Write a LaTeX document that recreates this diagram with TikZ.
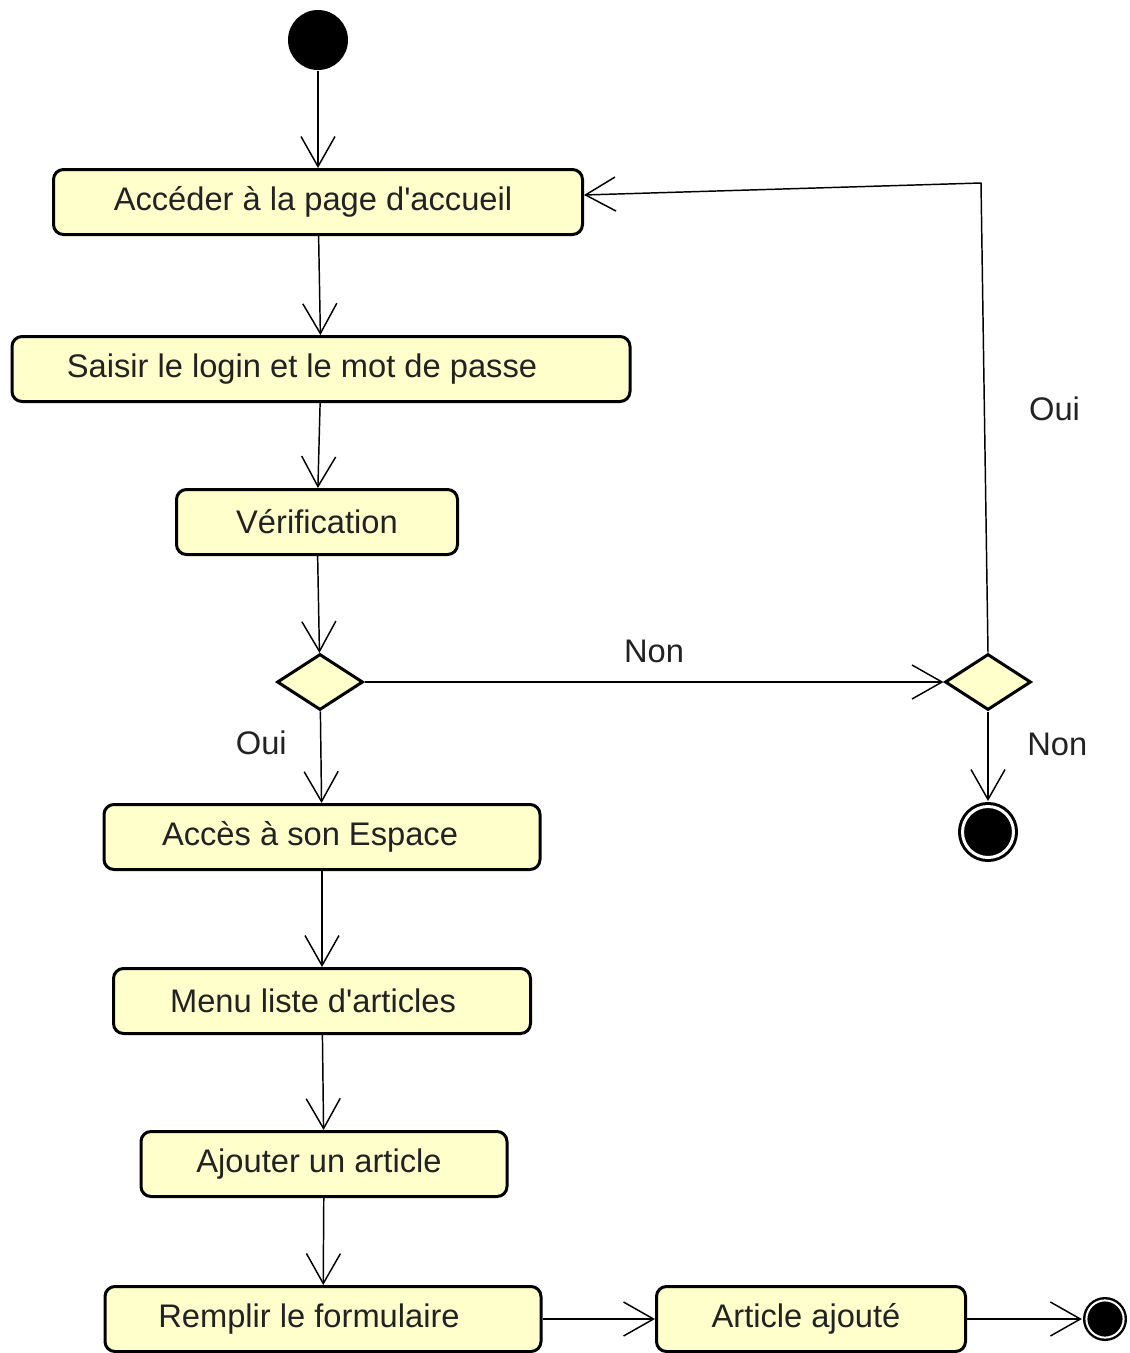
\documentclass[tikz,border=0pt]{standalone}
\usepackage{fontspec}
\setmainfont{Liberation Sans}[Ligatures=TeXOff]
\usetikzlibrary{shapes.geometric,arrows.meta}
\definecolor{actfill}{RGB}{255,255,204}
\definecolor{acttext}{RGB}{34,34,34}
% trailing space pushes a label to the left inside its box
\newcommand{\padl}[1]{\hspace*{#1}}

\begin{document}
\begin{tikzpicture}[x=0.75pt,y=-0.75pt,line width=1.1pt]
    % `activity' is used for the rounded action boxes.
    % `decision' is used for the two diamonds.
    % `initial' and `final' are the start and end dots.
    \tikzstyle{activity} = [draw,fill=actfill,line width=2.25pt,rounded corners=7.5pt,minimum height=48.75pt,inner sep=0pt,text=acttext,font=\fontsize{24.5}{29}\selectfont]
    \tikzstyle{decision} = [draw,fill=actfill,shape=diamond,line width=2.25pt,minimum width=64.5pt,minimum height=42pt,inner sep=0pt]
    \tikzstyle{initial} = [fill,shape=circle,minimum size=45pt,inner sep=0pt]
    \tikzstyle{final} = [draw,fill,shape=circle,double=white,double distance=2.25pt,line width=2.25pt,minimum size=38.25pt,inner sep=0pt]
    \tikzstyle{flow} = [-{Straight Barb[length=22.5pt,width=25.5pt]}]
    \tikzstyle{guard} = [inner sep=0pt,text=acttext,font=\fontsize{24.5}{29}\selectfont]
    %
    \useasboundingbox (0,0) rectangle (1129,1353);
    \node[initial] (start) at (318,40) {};
    \node[activity,minimum width=396.75pt] (home) at (318,202) {Accéder à la page d'accueil\padl{7.5pt}};
    \node[activity,minimum width=463.5pt] (login) at (321,369) {Saisir le login et le mot de passe\padl{28.5pt}};
    \node[activity,minimum width=210.75pt] (check) at (317,522) {Vérification};
    \node[decision] (ok) at (320,682) {};
    \node[decision] (retry) at (988,682) {};
    \node[final] (stop) at (988,832) {};
    \node[activity,minimum width=327pt] (space) at (322,837) {Accès à son Espace\padl{18pt}};
    \node[activity,minimum width=312.75pt] (menu) at (322,1001) {Menu liste d'articles\padl{13.5pt}};
    \node[activity,minimum width=274.5pt] (add) at (324,1164) {Ajouter un article\padl{7.5pt}};
    \node[activity,minimum width=327pt] (form) at (323,1319) {Remplir le formulaire\padl{21pt}};
    \node[activity,minimum width=231.75pt] (done) at (811,1319) {Article ajouté\padl{7.5pt}};
    \node[final,line width=1.8pt,double distance=1.5pt,minimum size=27.9pt] (end) at (1105,1319) {};
    \coordinate (turn) at (981,183);
    %
    % Draw lines.
    \draw[flow] (start) -- (home);
    \draw[flow] (home) -- (login);
    \draw[flow] (login) -- (check);
    \draw[flow] (check) -- (ok);
    \draw[flow] (ok) -- node[guard,pos=0.34,left=25pt] {Oui} (space);
    \draw[flow] (ok) -- node[guard,above=14pt] {Non} (retry);
    \draw[flow,shorten >=3pt] (retry) -- node[guard,pos=0.35,right=29pt] {Non} (stop);
    \draw[flow] (retry.north) -- node[guard,pos=0.52,right=33pt] {Oui} (turn) -- ([yshift=5.25pt]home.east);
    \draw[flow] (space) -- (menu);
    \draw[flow] (menu) -- (add);
    \draw[flow] (add) -- (form);
    \draw[flow] (form) -- (done);
    \draw[flow,shorten >=2.5pt] (done) -- (end);
\end{tikzpicture}
\end{document}
